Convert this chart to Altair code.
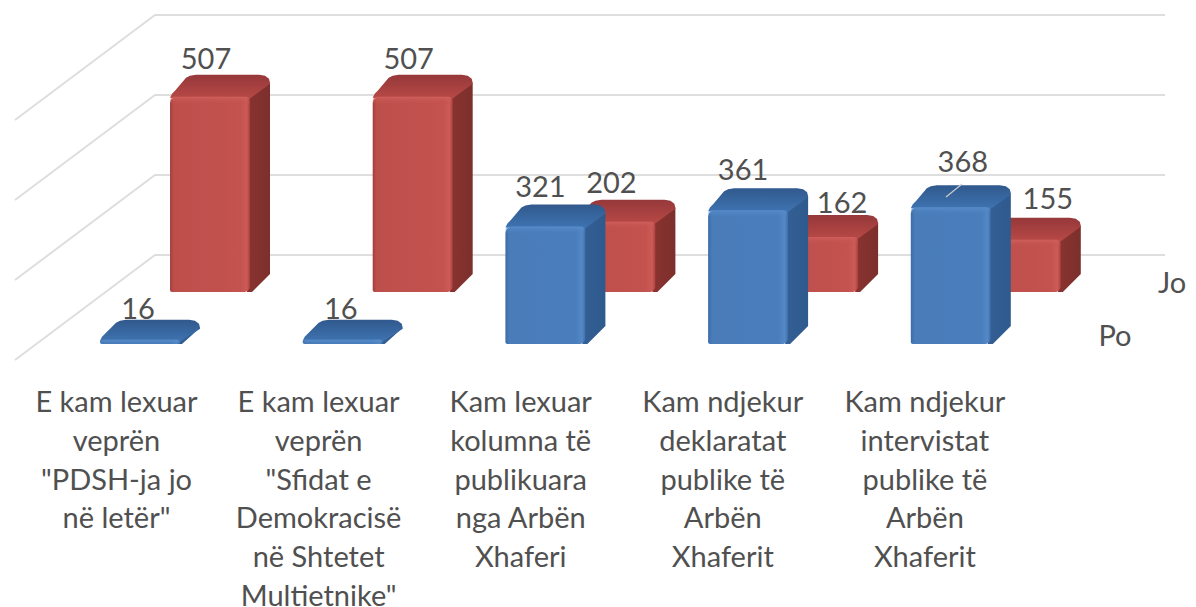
import numpy as np
import pandas as pd
import altair as alt

# ---- data ----
CATEGORIES = [
    ["E kam lexuar", "veprën", '"PDSH-ja jo', 'në letër"'],
    ["E kam lexuar", "veprën", '"Sfidat e', "Demokracisë", "në Shtetet", 'Multietnike"'],
    ["Kam lexuar", "kolumna të", "publikuara", "nga Arbën", "Xhaferi"],
    ["Kam ndjekur", "deklaratat", "publike të", "Arbën", "Xhaferit"],
    ["Kam ndjekur", "intervistat", "publike të", "Arbën", "Xhaferit"],
]
PO = [16, 16, 321, 361, 368]
JO = [507, 507, 202, 162, 155]
TICKS = [0, 200, 400, 600]

# ---- layout of the fake 3-D scene (plot units equal page pixels) ----
W, H = 1180, 599
STEP = 202.7
BAR_W, DX, DY = 80, 20, 22
PO_LEFT, PO_BASE = 100, 344
JO_LEFT, JO_BASE = 170, 292
# label nudges (dx from bar left, dy above the back edge of the top face)
PO_NUDGE = [(38, 11), (38, 11), (35, 18), (35, 18), (52, 23)]
JO_NUDGE = [(36, 16), (36, 16), (36, 17), (64, 12), (67, 19)]


def depth_height(v):
    """Value to on-screen height: the 3-D perspective is slightly non-linear."""
    return 0.194 * v ** 1.11


def depth_dy(v):
    """Almost flat bars show a slightly shallower top face."""
    return DY - 2 if v < 50 else DY


def faces(values, left0, base):
    front, top, side = [], [], []
    for i, v in enumerate(values):
        L = left0 + i * STEP
        B = base
        T = B - depth_height(v)
        d = depth_dy(v)
        front.append(dict(id=i, x=L, x2=L + BAR_W, y=T, y2=B))
        up = [(0, 1), (2, -3), (5, -6), (DX - 4, -d + 3), (DX, -d + 1), (DX + 6, -d),
              (BAR_W + DX - 11, -d), (BAR_W + DX - 5, -d + 1), (BAR_W + DX - 1, -d + 4),
              (BAR_W + DX, -d + 8)]
        lo = [(0, 1), (BAR_W - 2, 3), (BAR_W + DX, -d + 9)]
        xs = sorted({p[0] for p in up} | {p[0] for p in lo})
        for dx in xs:
            top.append(dict(id=i, x=L + dx,
                            y=T + np.interp(dx, [p[0] for p in up], [p[1] for p in up]),
                            y2=T + np.interp(dx, [p[0] for p in lo], [p[1] for p in lo])))
        for dx in [BAR_W - 3, BAR_W + 2, BAR_W + DX]:
            frac = (dx - BAR_W + 3) / (DX + 3)
            yt = T + 3 + frac * (-d + 5)
            yb = B if dx <= BAR_W + 2 else B - 3 - (dx - BAR_W - 2) / (DX - 2) * 15
            side.append(dict(id=i, x=L + dx, y=yt, y2=max(yb, yt)))
    return pd.DataFrame(front), pd.DataFrame(top), pd.DataFrame(side)


X = alt.X("x:Q", axis=None, scale=alt.Scale(domain=[8, 8 + W], nice=False, zero=False))
Y = alt.Y("y:Q", axis=None, scale=alt.Scale(domain=[8 + H, 8], nice=False, zero=False))


def hgrad(stops):
    return alt.Gradient(gradient="linear", x1=0, x2=1, y1=0, y2=0,
                        stops=[alt.GradientStop(offset=o, color=c) for o, c in stops])


def vgrad(stops):
    return alt.Gradient(gradient="linear", x1=0, x2=0, y1=0, y2=1,
                        stops=[alt.GradientStop(offset=o, color=c) for o, c in stops])


def bars(values, left0, base, front_c, top_c, side_c, glow):
    f, t, s = faces(values, left0, base)
    enc = dict(x=X, y=Y, y2="y2:Q", detail="id:N")
    side = alt.Chart(s).mark_area(color=hgrad(side_c)).encode(**enc)
    top = alt.Chart(t).mark_area(color=vgrad(top_c)).encode(**enc)
    front = alt.Chart(f).mark_bar(color=hgrad(front_c), cornerRadiusTopLeft=7, cornerRadiusTopRight=7,
                                  cornerRadiusBottomLeft=2, cornerRadiusBottomRight=6).encode(
        x=X, x2="x2:Q", y=Y, y2="y2:Q")
    g = f.assign(y2=(f.y + 8).clip(upper=f.y2))
    shine = alt.Chart(g).mark_bar(color=vgrad(glow), cornerRadiusTopLeft=5, cornerRadiusTopRight=5).encode(
        x=X, x2="x2:Q", y=Y, y2="y2:Q")
    return [side, top, front, shine]


# gridlines on the back and side walls
grid_rows = []
for k, t in enumerate(TICKS):
    yw = 255 - t * 0.4
    grid_rows += [dict(id=k, x=15, y=yw + 105), dict(id=k, x=155, y=yw), dict(id=k, x=1165, y=yw)]
grid = alt.Chart(pd.DataFrame(grid_rows)).mark_line(color="#dedede", strokeWidth=2).encode(
    x=X, y=Y, detail="id:N")

red = bars(JO, JO_LEFT, JO_BASE,
           [(0, "#a5403d"), (0.05, "#bd4f4b"), (0.88, "#c4524f"), (0.96, "#cc5a57"), (1, "#a8403d")],
           [(0, "#96383a"), (1, "#b94a47")],
           [(0, "#8a3330"), (1, "#7c2f2c")],
           [(0, "#d2625ecc"), (1, "#c0504d00")])
blue = bars(PO, PO_LEFT, PO_BASE,
            [(0, "#3d6ca6"), (0.05, "#497cb9"), (0.88, "#4a7dbb"), (0.96, "#5488c6"), (1, "#3d6ca6")],
            [(0, "#31598d"), (1, "#3f75b3")],
            [(0, "#345f94"), (1, "#2e5a8e")],
            [(0, "#5a90cfcc"), (1, "#4a7ebb00")])

# value labels
lab_rows = []
for vals, left0, base, nudge in [(JO, JO_LEFT, JO_BASE, JO_NUDGE), (PO, PO_LEFT, PO_BASE, PO_NUDGE)]:
    for i, v in enumerate(vals):
        lab_rows.append(dict(x=left0 + i * STEP + nudge[i][0],
                             y=base - depth_height(v) - depth_dy(v) - nudge[i][1], t=str(v)))
TXT = dict(font="Lato", fontSize=29, color="#505050", baseline="middle", align="center")
labels = alt.Chart(pd.DataFrame(lab_rows)).mark_text(dy=1, **TXT).encode(x=X, y=Y, text="t:N")

# leader line of the 368 label
leader = alt.Chart(pd.DataFrame([dict(x=946, y=197, x2=962, y2=184)])).mark_rule(
    color="#c8ccd0", strokeWidth=1.2).encode(x=X, x2="x2:Q", y=Y, y2="y2:Q")

# category labels
cat_rows = [dict(x=116.5 + i * 202.1, y=402 + j * 38.8, t=line)
            for i, lines in enumerate(CATEGORIES) for j, line in enumerate(lines)]
cats = alt.Chart(pd.DataFrame(cat_rows)).mark_text(dy=1, **TXT).encode(x=X, y=Y, text="t:N")

# depth-axis labels (Jo is kept just inside the right edge of the canvas)
series = alt.Chart(pd.DataFrame([dict(x=1172, y=283, t="Jo"), dict(x=1115, y=336, t="Po")])).mark_text(
    dy=1, **TXT).encode(x=X, y=Y, text="t:N")

chart = alt.layer(grid, *red, *blue, leader, labels, cats, series).properties(
    width=W, height=H, padding=0, autosize=alt.AutoSizeParams(type="none"),
    background="white").configure_view(stroke=None)

chart.save("out.html", embed_options={"renderer": "svg", "actions": False})
